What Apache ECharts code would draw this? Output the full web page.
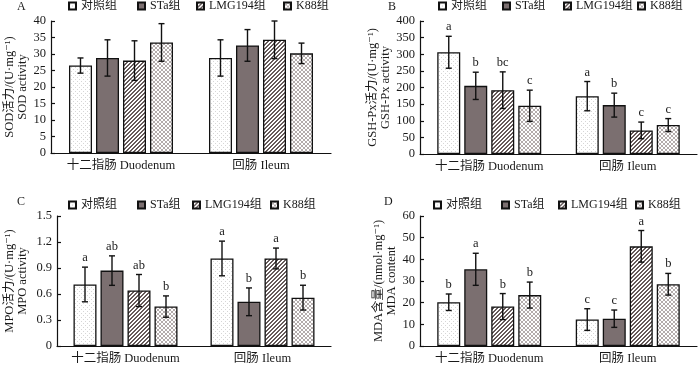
<!DOCTYPE html>
<html>
<head>
<meta charset="utf-8">
<script src="https://cdn.jsdelivr.net/npm/echarts@6/dist/echarts.min.js"></script>
<style>html,body{margin:0;padding:0;background:#fff}#c{width:700px;height:367px}</style>
</head>
<body>
<div id="c"></div>
<script>
// ---------- data ----------
const categories = ['十二指肠 Duodenum', '回肠 Ileum'];
const groups = ['对照组', 'STa组', 'LMG194组', 'K88组'];

// rows = groups (对照组, STa组, LMG194组, K88组), cols = categories (Duodenum, Ileum)
const sodMean = [[26.5, 28.8], [28.8, 32.6], [28.0, 34.3], [33.5, 30.2]];
const sodSD   = [[2.3, 5.5], [5.5, 4.8], [6.0, 5.7], [5.7, 3.1]];

const gshMean = [[306, 174], [205, 147], [192, 71], [145, 87]];
const gshSD   = [[48, 44], [41, 36], [55, 25], [47, 19.5]];
const gshLetters = [['a', 'a'], ['b', 'b'], ['bc', 'c'], ['c', 'c']];

const mpoMean = [[0.71, 1.01], [0.87, 0.51], [0.64, 1.01], [0.455, 0.558]];
const mpoSD   = [[0.20, 0.20], [0.17, 0.16], [0.185, 0.12], [0.123, 0.143]];
const mpoLetters = [['a', 'a'], ['ab', 'b'], ['ab', 'a'], ['b', 'b']];

const mdaMean = [[20.2, 12.2], [35.4, 12.6], [18.2, 46.0], [23.5, 28.5]];
const mdaSD   = [[3.8, 5.0], [7.4, 4.0], [6.0, 7.3], [6.0, 5.0]];
const mdaLetters = [['b', 'c'], ['a', 'c'], ['b', 'a'], ['b', 'b']];

const sodTicks = { max: 40, interval: 5 };
const gshTicks = { max: 400, interval: 50 };
const mpoTicks = { max: 1.5, interval: 0.3 };
const mdaTicks = { max: 60, interval: 10 };

// ---------- styling ----------
const FONT = "'Liberation Serif', 'DejaVu Serif', 'Noto Sans CJK SC', serif";
const TXT = '#1a1a1a';
const BAR_W = 23, GAP_PCT = 17.4;
const STEP = BAR_W * (1 + GAP_PCT / 100);

function pattern(size, draw) {
  const c = document.createElement('canvas');
  c.width = c.height = size;
  const ctx = c.getContext('2d');
  ctx.fillStyle = '#ffffff';
  ctx.fillRect(0, 0, size, size);
  draw(ctx);
  return c;
}
const dotsPat = pattern(4, ctx => {
  ctx.fillStyle = '#d6d6d6';
  ctx.fillRect(1, 1, 1, 1); ctx.fillRect(3, 3, 1, 1);
});
const stripePat = pattern(4, ctx => {
  ctx.fillStyle = '#665a5a';
  for (let x = 0; x < 4; x++) for (let y = 0; y < 4; y++) {
    const k = (x + y) % 4;
    if (k === 0 || k === 1) ctx.fillRect(x, y, 1, 1);
  }
});
const crossPat = pattern(4, ctx => {
  ctx.fillStyle = '#b4acac';
  for (let x = 0; x < 4; x++) for (let y = 0; y < 4; y++) {
    if (x === y || x + y === 3) ctx.fillRect(x, y, 1, 1);
  }
});
const fills = [
  { image: dotsPat, repeat: 'repeat' },
  '#7b6f70',
  { image: stripePat, repeat: 'repeat' },
  { image: crossPat, repeat: 'repeat' }
];

const panels = [
  { label: 'A', labelPos: [17, 1], grid: { left: 51, top: 21, width: 280, height: 132 },
    ticks: sodTicks, mean: sodMean, sd: sodSD, letters: null,
    name: 'SOD活力/(U·mg⁻¹)\nSOD activity', nameGap: 22,
    legendX: [68, 137, 196, 283], legendY: 0, fmt: v => String(v) },
  { label: 'B', labelPos: [388, 1], grid: { left: 420, top: 21, width: 277, height: 133 },
    ticks: gshTicks, mean: gshMean, sd: gshSD, letters: gshLetters,
    name: 'GSH-Px活力/(U·mg⁻¹)\nGSH-Px activity', nameGap: 22,
    legendX: [438, 502, 563, 637], legendY: 0, fmt: v => String(v) },
  { label: 'C', labelPos: [17, 196], grid: { left: 57, top: 216, width: 274, height: 130 },
    ticks: mpoTicks, mean: mpoMean, sd: mpoSD, letters: mpoLetters,
    name: 'MPO活力/(U·mg⁻¹)\nMPO activity', nameGap: 28,
    legendX: [68, 137, 192, 270], legendY: 199, fmt: v => (v === 0 ? '0' : v.toFixed(1)) },
  { label: 'D', labelPos: [384, 196], grid: { left: 420, top: 216, width: 277, height: 130 },
    ticks: mdaTicks, mean: mdaMean, sd: mdaSD, letters: mdaLetters,
    name: 'MDA含量/(nmol·mg⁻¹)\nMDA content', nameGap: 22,
    legendX: [433, 501, 558, 635], legendY: 199, fmt: v => String(v) }
];

const option = {
  animation: false,
  backgroundColor: '#fff',
  title: [], grid: [], xAxis: [], yAxis: [], legend: [], series: []
};

panels.forEach((p, k) => {
  option.title.push({ text: p.label, left: p.labelPos[0], top: p.labelPos[1], padding: 0,
    textStyle: { fontFamily: FONT, fontSize: 12, fontWeight: 'normal', color: TXT } });
  option.grid.push(Object.assign({ containLabel: false }, p.grid));
  option.xAxis.push({
    gridIndex: k, type: 'category', data: categories,
    axisLine: { lineStyle: { color: '#111', width: 1.2 } },
    axisTick: { inside: true, length: 4, lineStyle: { color: '#111', width: 1.2 } },
    axisLabel: { interval: 0, hideOverlap: false, fontFamily: FONT, fontSize: 12.5, color: TXT, margin: 6 },
    splitLine: { show: false }
  });
  option.yAxis.push({
    gridIndex: k, type: 'value', min: 0, max: p.ticks.max, interval: p.ticks.interval,
    name: p.name, nameLocation: 'middle', nameRotate: 90, nameGap: p.nameGap,
    nameTextStyle: { fontFamily: FONT, fontSize: 12.5, color: TXT, lineHeight: 13 },
    axisLine: { show: true, lineStyle: { color: '#111', width: 1.2 } },
    axisTick: { show: true, inside: true, length: 4, lineStyle: { color: '#111', width: 1.2 } },
    axisLabel: { fontFamily: FONT, fontSize: 12.5, color: TXT, margin: 5, formatter: p.fmt },
    splitLine: { show: false }
  });
  groups.forEach((g, gi) => {
    option.legend.push({
      data: [g], left: p.legendX[gi], top: p.legendY, padding: 0,
      icon: 'rect', itemWidth: 7, itemHeight: 7,
      textStyle: { fontFamily: FONT, fontSize: 12, color: TXT }
    });
    option.series.push({
      type: 'bar', name: g, xAxisIndex: k, yAxisIndex: k,
      data: p.mean[gi], barWidth: BAR_W, barGap: GAP_PCT + '%',
      itemStyle: { color: fills[gi], borderColor: '#111', borderWidth: 1.3 },
      z: 2
    });
  });
  const errData = [];
  groups.forEach((g, gi) => categories.forEach((c, ci) => {
    errData.push([ci, gi, p.mean[gi][ci], p.sd[gi][ci]]);
  }));
  option.series.push({
    type: 'custom', name: 'err' + k, xAxisIndex: k, yAxisIndex: k, z: 5,
    data: errData, encode: { x: 0, y: 2 },
    renderItem: (params, api) => {
      const ci = api.value(0), gi = api.value(1), m = api.value(2), s = api.value(3);
      const top = api.coord([ci, m + s]);
      const bot = api.coord([ci, m - s]);
      const x = top[0] + (gi - 1.5) * STEP;
      const cap = 3;
      const ls = { stroke: '#111', lineWidth: 1.4 };
      const children = [
        { type: 'line', shape: { x1: x, y1: top[1], x2: x, y2: bot[1] }, style: ls },
        { type: 'line', shape: { x1: x - cap, y1: top[1], x2: x + cap, y2: top[1] }, style: ls },
        { type: 'line', shape: { x1: x - cap, y1: bot[1], x2: x + cap, y2: bot[1] }, style: ls }
      ];
      if (p.letters) {
        children.push({ type: 'text', style: {
          text: p.letters[gi][ci], x: x, y: top[1] - 3,
          align: 'center', verticalAlign: 'bottom',
          font: '12.5px ' + FONT, fill: TXT } });
      }
      return { type: 'group', children };
    }
  });
});

const chart = echarts.init(document.getElementById('c'), null, { renderer: 'canvas' });
chart.setOption(option);
</script>
</body>
</html>
